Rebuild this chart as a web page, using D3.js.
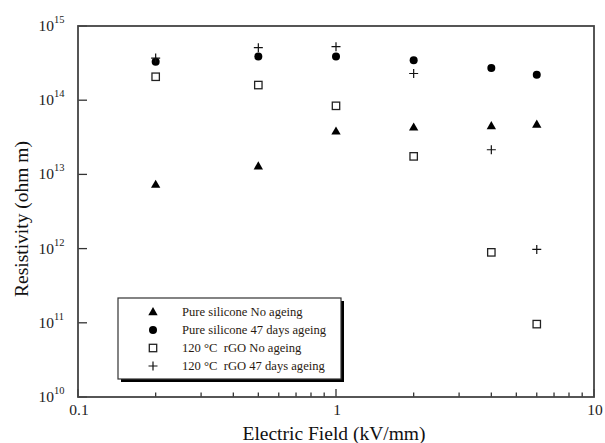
<!DOCTYPE html>
<html><head><meta charset="utf-8">
<script src="https://cdn.jsdelivr.net/npm/d3@7"></script>
<style>body{margin:0;background:#fff}svg{display:block}text{white-space:pre}</style>
</head><body>
<script>
const fields = [0.2, 0.5, 1, 2, 4, 6];
const pureNoAgeing = [7.3e12, 1.29e13, 3.8e13, 4.3e13, 4.5e13, 4.7e13];
const pure47Days = [3.3e14, 3.87e14, 3.87e14, 3.46e14, 2.72e14, 2.21e14];
const rgoNoAgeing = [2.07e14, 1.6e14, 8.4e13, 1.75e13, 8.9e11, 9.6e10];
const rgo47Days = [3.7e14, 5.1e14, 5.27e14, 2.29e14, 2.15e13, 9.75e11];
const seriesNames = ["Pure silicone No ageing", "Pure silicone 47 days ageing", "120 \u00B0C  rGO No ageing", "120 \u00B0C  rGO 47 days ageing"];
const yTickExps = [10, 11, 12, 13, 14, 15];
const xTickLabels = ["0.1", "1", "10"];
const xMajor = [0.1, 1, 10];
const xMinor = [0.2,0.3,0.4,0.5,0.6,0.7,0.8,0.9,2,3,4,5,6,7,8,9];

const W = 605, H = 443;
const L = 78, R = 594, T = 26, B = 397;
const font = "'Liberation Serif','Times New Roman',serif";

const svg = d3.select("body").append("svg").attr("width", W).attr("height", H);
const x = d3.scaleLog().domain([0.1, 10]).range([L, R]);
const y = d3.scaleLog().domain([1e10, 1e15]).range([B, T]);

// Ticks (inward)
const g = svg.append("g").attr("stroke", "#333").attr("stroke-width", 1.3);
g.selectAll(".ym").data(yTickExps).join("line")
  .attr("x1", L).attr("x2", L + 9)
  .attr("y1", d => y(Math.pow(10, d))).attr("y2", d => y(Math.pow(10, d)));
g.selectAll(".xm").data(xMajor).join("line")
  .attr("x1", d => x(d)).attr("x2", d => x(d)).attr("y1", B).attr("y2", B - 8);
g.selectAll(".xn").data(xMinor).join("line")
  .attr("x1", d => x(d)).attr("x2", d => x(d)).attr("y1", B).attr("y2", B - 4.5);

// Frame
svg.append("rect").attr("x", L).attr("y", T).attr("width", R - L).attr("height", B - T)
  .attr("fill", "none").attr("stroke", "#444").attr("stroke-width", 1.8);

// Y tick labels
const yl = svg.selectAll(".ylab").data(yTickExps).join("text")
  .attr("font-family", font).attr("fill", "#222");
yl.append("tspan").attr("x", 54).attr("y", d => y(Math.pow(10, d)) + 5)
  .attr("text-anchor", "end").attr("font-size", 15.5).text("10");
yl.append("tspan").attr("x", 54).attr("y", d => y(Math.pow(10, d)) - 3)
  .attr("font-size", 10.5).text(d => d);

// X tick labels
svg.selectAll(".xlab").data(xMajor).join("text")
  .attr("x", d => x(d) + 1).attr("y", 415).attr("text-anchor", "middle")
  .attr("font-family", font).attr("font-size", 15.5).attr("fill", "#222")
  .text((d, i) => xTickLabels[i]);

// Axis titles
svg.append("text").attr("x", 334).attr("y", 440).attr("text-anchor", "middle")
  .attr("font-family", font).attr("font-size", 19.5).attr("fill", "#111")
  .text("Electric Field (kV/mm)");
svg.append("text").attr("transform", "translate(28,219) rotate(-90)")
  .attr("text-anchor", "middle").attr("font-family", font).attr("font-size", 19.5).attr("fill", "#111")
  .text("Resistivity (ohm m)");

// Marker drawers
function tri(sel, cx, cy) {
  sel.append("path").attr("d", d3.symbol(d3.symbolTriangle, 38)())
    .attr("transform", `translate(${cx},${cy + 0.5})`).attr("fill", "#000");
}
function circ(sel, cx, cy) {
  sel.append("circle").attr("cx", cx).attr("cy", cy).attr("r", 4).attr("fill", "#000");
}
function sq(sel, cx, cy) {
  sel.append("rect").attr("x", cx - 3.7).attr("y", cy - 3.7).attr("width", 7.4).attr("height", 7.4)
    .attr("fill", "#fff").attr("stroke", "#222").attr("stroke-width", 1.3);
}
function plus(sel, cx, cy) {
  sel.append("path").attr("d", `M${cx - 4.5},${cy}H${cx + 4.5}M${cx},${cy - 4.5}V${cy + 4.5}`)
    .attr("stroke", "#111").attr("stroke-width", 1.2).attr("fill", "none");
}
const drawers = [tri, circ, sq, plus];
const allSeries = [pureNoAgeing, pure47Days, rgoNoAgeing, rgo47Days];

const pts = svg.append("g");
[2, 0, 1, 3].forEach(si => {
  allSeries[si].forEach((v, i) => drawers[si](pts, x(fields[i]), y(v)));
});

// Legend
const lg = svg.append("g");
lg.append("rect").attr("x", 121).attr("y", 301).attr("width", 223).attr("height", 81).attr("fill", "#000");
lg.append("rect").attr("x", 118).attr("y", 298).attr("width", 223).attr("height", 81)
  .attr("fill", "#fff").attr("stroke", "#333").attr("stroke-width", 1.2);
const rowsY = [316, 334, 352, 370];
seriesNames.forEach((name, i) => {
  drawers[i](lg, 153, rowsY[i] - 4);
  lg.append("text").attr("x", 182).attr("y", rowsY[i])
    .attr("font-family", font).attr("font-size", 12.6).attr("fill", "#2a1a10").text(name);
});
</script>
</body></html>
